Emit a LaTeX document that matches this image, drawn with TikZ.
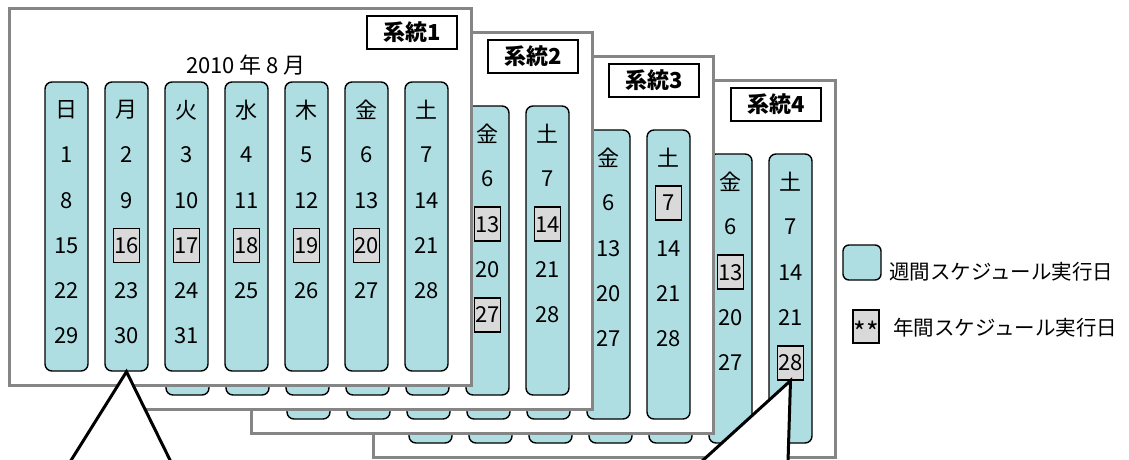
\documentclass[tikz,border=0pt]{standalone}
\usepackage{fontspec}
\setmainfont{Noto Sans CJK JP}
\definecolor{pillc}{HTML}{AEDDE2}
\definecolor{hlc}{HTML}{D9D9D9}
\definecolor{framec}{HTML}{858585}
\tikzset{
  panelframe/.style={draw=framec,line width=3pt,fill=white,minimum width=462pt,minimum height=377pt,inner sep=0pt},
  pill/.style={draw=black,line width=1.4pt,fill=pillc,rounded corners=7pt,minimum width=43pt,minimum height=289pt,inner sep=0pt},
  dayname/.style={font=\fontsize{22pt}{24pt}\selectfont,inner sep=0pt},
  daynum/.style={font=\fontsize{22pt}{24pt}\selectfont,inner sep=0pt},
  hlbox/.style={draw=black,line width=1.8pt,fill=hlc,minimum width=26pt,minimum height=34pt,inner sep=0pt,font=\fontsize{22pt}{24pt}\selectfont},
  titlebox/.style={draw=black,line width=1.8pt,fill=white,minimum width=90pt,minimum height=33pt,inner sep=0pt,font=\bfseries\fontsize{22pt}{24pt}\selectfont},
  yeartxt/.style={font=\fontsize{22pt}{24pt}\selectfont,inner sep=0pt},
  legtxt/.style={font=\fontsize{20.5pt}{23pt}\selectfont,inner sep=0pt,anchor=west},
  callout/.style={draw=black,line width=3pt}
}
\makeatletter
\newcommand\calpanel[6]{%
\begin{scope}[shift={(#2,#3)}]
\node[panelframe] (#1) at (231,188.5) {};
\node[titlebox] (#1-t) at (403,24.5) {#6};
\foreach \c/\w in {0/日,1/月,2/火,3/水,4/木,5/金,6/土}{
  \node[pill] (#1-c\c) at ({57.5+60*\c},218.5) {};
  \ifnum\c<#4\relax\else
    \node[dayname] (#1-w\c) at ({57.5+60*\c},102) {\w};
    \foreach \r in {1,...,5}{
      \pgfmathtruncatemacro\n{7*(\r-1)+\c+1}
      \ifnum\n<32
        \edef\tmp{\noexpand\in@{,\n,}{,#5,}}\tmp
        \ifin@ \def\sty{hlbox}\else\def\sty{daynum}\fi
        \node[\sty] (#1-n\n) at ({57.5+60*\c},{147+45.25*(\r-1)}) {\n};
      \fi
    }
  \fi
}
\end{scope}}
\makeatother
\begin{document}
\begin{tikzpicture}[x=1pt,y=-1pt]
\useasboundingbox (0,0) rectangle (1129,459);
\calpanel{p4}{373}{80}{5}{13,28}{系統4}
\calpanel{p3}{251}{56}{5}{7}{系統3}
\calpanel{p2}{130}{32}{5}{13,14,27}{系統2}
\calpanel{p1}{9}{8}{0}{16,17,18,19,20}{系統1}
\node[yeartxt] (yr) at (246,65) {2010 年 8 月};
% callouts
\coordinate (a1) at (70,462);
\coordinate (a2) at (171,462);
\fill[white] (p1-c1.south) -- (a1) -- (a2) -- cycle;
\draw[callout] (a1) -- (p1-c1.south) -- (a2);
\coordinate (b1) at (701,462);
\coordinate (b2) at (788,462);
\fill[white] (p4-n28.south) -- (b1) -- (b2) -- cycle;
\draw[callout] (b1) -- (p4-n28.south) -- (b2);
% legend
\node[pill,minimum width=38pt,minimum height=35pt,rounded corners=6pt] (lg1) at (862,262.5) {};
\node[legtxt] (lg1t) at (889,272) {週間スケジュール実行日};
\node[hlbox,minimum width=26pt,minimum height=33pt,font=\fontsize{27pt}{29pt}\selectfont] (lg2) at (866,326.5) {\smash{\raisebox{-0.6em}{**}}};
\node[legtxt] (lg2t) at (893,328) {年間スケジュール実行日};
\end{tikzpicture}
\end{document}
